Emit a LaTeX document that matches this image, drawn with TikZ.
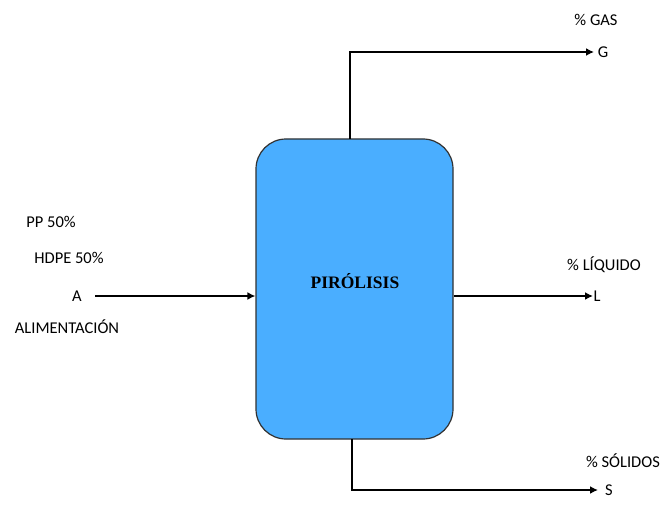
\documentclass[tikz,border=0pt]{standalone}
\usepackage{fontspec}
\setmainfont{Liberation Serif}
\newfontfamily\lblfont{Carlito}
\usetikzlibrary{arrows.meta}
\definecolor{reactorblue}{RGB}{74,174,255}
\definecolor{borderdark}{RGB}{50,50,50}
\begin{document}
\begin{tikzpicture}[x=1pt,y=-1pt,
  lbl/.style={font=\lblfont\fontsize{16.5}{18}\selectfont, inner sep=0pt, anchor=center},
  flow/.style={line width=2.5pt, -{Latex[length=8pt,width=8pt]}},
  reactor/.style={draw=borderdark, line width=1.2pt, fill=reactorblue, rounded corners=30pt}]
\useasboundingbox (0,0) rectangle (664,524);
\fill[white] (0,0) rectangle (664,524);
\node[reactor, minimum width=197pt, minimum height=300pt, inner sep=0pt] (r) at (354.5,289) {};
\node[font=\bfseries\fontsize{17.5}{19}\selectfont, inner sep=0pt] (t) at (355,281) {PIRÓLISIS};
% input
\coordinate (ain) at (95,296);
\coordinate (rin) at (r.west |- ain);
\draw[flow] (ain) -- (rin);
\node[lbl] (A) at (77,296) {A};
\node[lbl] (pp) at (51,222) {PP 50\%};
\node[lbl] (hd) at (69,258) {HDPE 50\%};
\node[lbl] (al) at (67,327) {ALIMENTACIÓN};
% gas
\coordinate (gtop) at (350,139);
\coordinate (gcorner) at (350,52);
\coordinate (gend) at (594,52);
\draw[flow] (gtop) -- (gcorner) -- (gend);
\node[lbl] (G) at (603,52) {G};
\node[lbl] (gas) at (596,20) {\% GAS};
% liquid
\coordinate (lstart) at (r.east |- 0,296);
\coordinate (lend) at (593,296);
\draw[flow] (lstart) -- (lend);
\node[lbl] (L) at (597,296) {L};
\node[lbl] (liq) at (604,265) {\% LÍQUIDO};
% solids
\coordinate (sbot) at (352,439);
\coordinate (scorner) at (352,490);
\coordinate (send) at (598,490);
\draw[flow] (sbot) -- (scorner) -- (send);
\node[lbl] (S) at (609,490) {S};
\node[lbl] (sol) at (623,461) {\% SÓLIDOS};
\end{tikzpicture}
\end{document}
